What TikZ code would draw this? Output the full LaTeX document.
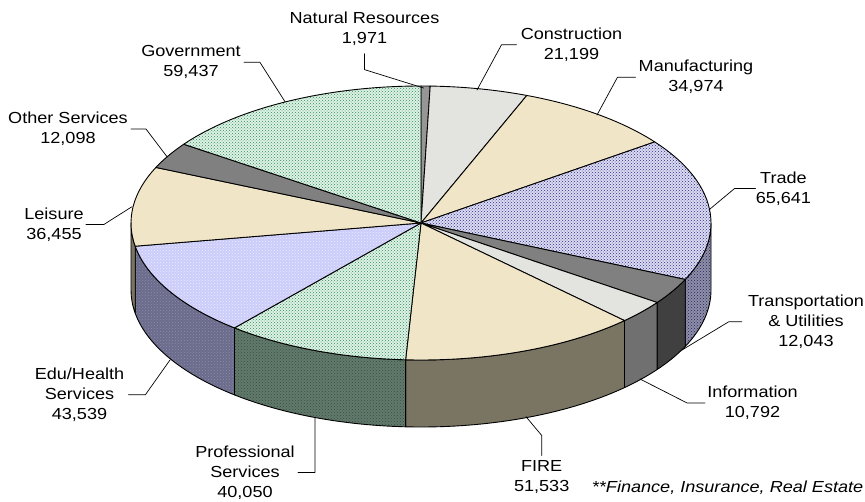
\documentclass[tikz,border=0pt]{standalone}
\usepackage{fontspec}
\usepackage{tikz}
\usetikzlibrary{patterns}
\newfontfamily\lblfam{Liberation Sans}[FakeStretch=1.13]
\newcommand\lblfont{\lblfam\fontsize{16}{20}\selectfont}
\definecolor{cream}{rgb}{0.94,0.90,0.78}
\definecolor{litegray}{rgb}{0.89,0.89,0.875}
\definecolor{nrgray}{rgb}{0.59,0.59,0.59}
\definecolor{midgray}{rgb}{0.50,0.50,0.50}
\definecolor{transdark}{rgb}{0.25,0.25,0.25}
\definecolor{infodark}{rgb}{0.44,0.44,0.44}
\definecolor{olivedark}{rgb}{0.48,0.455,0.385}
\definecolor{tradebg}{rgb}{0.86,0.86,0.95}
\definecolor{tradedot}{rgb}{0.18,0.18,0.52}
\definecolor{tradesidebg}{rgb}{0.56,0.56,0.66}
\definecolor{tradesidedot}{rgb}{0.12,0.12,0.36}
\definecolor{greenbg}{rgb}{0.87,0.95,0.90}
\definecolor{greendot}{rgb}{0.20,0.55,0.37}
\definecolor{profsidebg}{rgb}{0.38,0.48,0.42}
\definecolor{profsidedot}{rgb}{0.21,0.31,0.25}
\definecolor{lavender}{rgb}{0.80,0.80,0.98}
\definecolor{lavdot}{rgb}{0.93,0.93,1.0}
\definecolor{edusidebg}{rgb}{0.42,0.42,0.55}
\definecolor{edusidedot}{rgb}{0.55,0.55,0.67}
\tikzset{
  slice/.style={draw=black,line width=0.9pt},
  nrtop/.style={slice,fill=nrgray},
  constop/.style={slice,fill=litegray},
  manutop/.style={slice,fill=cream},
  tradetop/.style={slice,preaction={fill=tradebg},pattern=crosshatch dots,pattern color=tradedot},
  transtop/.style={slice,fill=midgray},
  infotop/.style={slice,fill=litegray},
  firetop/.style={slice,fill=cream},
  proftop/.style={slice,preaction={fill=greenbg},pattern=crosshatch dots,pattern color=greendot},
  edutop/.style={slice,preaction={fill=lavender},pattern=crosshatch dots,pattern color=lavdot},
  leistop/.style={slice,fill=cream},
  othertop/.style={slice,fill=midgray},
  govtop/.style={slice,preaction={fill=greenbg},pattern=crosshatch dots,pattern color=greendot},
  tradeside/.style={slice,preaction={fill=tradesidebg},pattern=crosshatch dots,pattern color=tradesidedot},
  transside/.style={slice,fill=transdark},
  infoside/.style={slice,fill=infodark},
  fireside/.style={slice,fill=olivedark},
  profside/.style={slice,preaction={fill=profsidebg},pattern=crosshatch dots,pattern color=profsidedot},
  eduside/.style={slice,preaction={fill=edusidebg},pattern=crosshatch dots,pattern color=edusidedot},
  leisside/.style={slice,fill=olivedark},
  lbl/.style={font=\lblfont,align=center,inner sep=0pt},
  leader/.style={draw=black,line width=0.7pt}
}

\begin{document}
\begin{tikzpicture}[line cap=round,line join=round,x=1pt,y=1pt]
	\useasboundingbox (0,0) rectangle (865,501);
	\coordinate (C) at (421,278);
	% side wall, front half only
	\foreach \a/\b/\s in {0/-24.34/tradeside,-24.34/-35.47/transside,-35.47/-45.43/infoside,-45.43/-93.04/fireside,-93.04/-130.03/profside,-130.03/-170.25/eduside,-170.25/-180/leisside}
		\draw[\s] (C) ++(\a:290 and 137) arc[start angle=\a,end angle=\b,x radius=290,y radius=137] -- ++(0,-67) arc[start angle=\b,end angle=\a,x radius=290,y radius=137] -- cycle;
	% top face
	\foreach \a/\b/\s in {90/88.18/nrtop,88.18/68.60/constop,68.60/36.29/manutop,36.29/-24.34/tradetop,-24.34/-35.47/transtop,-35.47/-45.43/infotop,-45.43/-93.04/firetop,-93.04/-130.03/proftop,-130.03/-170.25/edutop,-170.25/-203.92/leistop,-203.92/-215.10/othertop,-215.10/-270/govtop}
		\draw[\s] (C) -- ++(\a:290 and 137) arc[start angle=\a,end angle=\b,x radius=290,y radius=137] -- cycle;
	% labels
	\node[lbl] (nr) at (364.5,472.4) {Natural Resources\\1,971};
	\node[lbl] (cons) at (571.5,456.3) {Construction\\21,199};
	\node[lbl] (manu) at (696,423.8) {Manufacturing\\34,974};
	\node[lbl] (trade) at (783.4,312.5) {Trade\\65,641};
	\node[lbl] (trans) at (806,179.3) {Transportation\\\& Utilities\\12,043};
	\node[lbl] (info) at (752.5,98) {Information\\10,792};
	\node[lbl] (fire) at (541.7,23.8) {FIRE\\51,533};
	\node[lbl,font=\lblfont\itshape,anchor=base west] (note) at (591.7,8.3) {**Finance, Insurance, Real Estate};
	\node[lbl] (prof) at (245,28.5) {Professional\\Services\\40,050};
	\node[lbl] (edu) at (79.5,106.3) {Edu/Health\\Services\\43,539};
	\node[lbl] (leis) at (54,276.5) {Leisure\\36,455};
	\node[lbl] (other) at (68,372) {Other Services\\12,098};
	\node[lbl] (gov) at (191,438.7) {Government\\59,437};
	% points on the rim
	\coordinate (nrp) at (423.5,413);
	\coordinate (consp) at (477,411);
	\coordinate (manup) at (597,386);
	\coordinate (tradep) at (710,292);
	\coordinate (transp) at (682,151);
	\coordinate (infop) at (640,122);
	\coordinate (firep) at (526,84.3);
	\coordinate (profp) at (315,83);
	\coordinate (edup) at (170,141);
	\coordinate (leisp) at (132,294.3);
	\coordinate (otherp) at (167,344.3);
	\coordinate (govp) at (285,399.3);
	% leader lines
	\draw[leader] ([yshift=-8pt]nr.south) -- ++(0,-16) -- (nrp);
	\draw[leader] ([xshift=-4pt]cons.west) -- ++(-15,0) -- (consp);
	\draw[leader] ([xshift=-3pt]manu.west) -- ++(-18,0) -- (manup);
	\draw[leader] (trade.west) -- ++(-21,0) -- (tradep);
	\draw[leader] ([xshift=-6pt]trans.west) -- ++(-13,0) -- (transp);
	\draw[leader] ([xshift=-2pt]info.west) -- ++(-18,0) -- (infop);
	\draw[leader] ([yshift=5pt]fire.north) -- ++(0,20) -- (firep);
	\draw[leader] ([xshift=3pt]prof.east) -- ++(17,0) -- (profp);
	\draw[leader] ([xshift=4pt]edu.east) -- ++(17,0) -- (edup);
	\draw[leader] ([xshift=2pt]leis.east) -- ++(18,0) -- (leisp);
	\draw[leader] ([xshift=3pt]other.east) -- ++(15,0) -- (otherp);
	\draw[leader] ([xshift=3pt]gov.east) -- ++(16,0) -- (govp);
\end{tikzpicture}
\end{document}
